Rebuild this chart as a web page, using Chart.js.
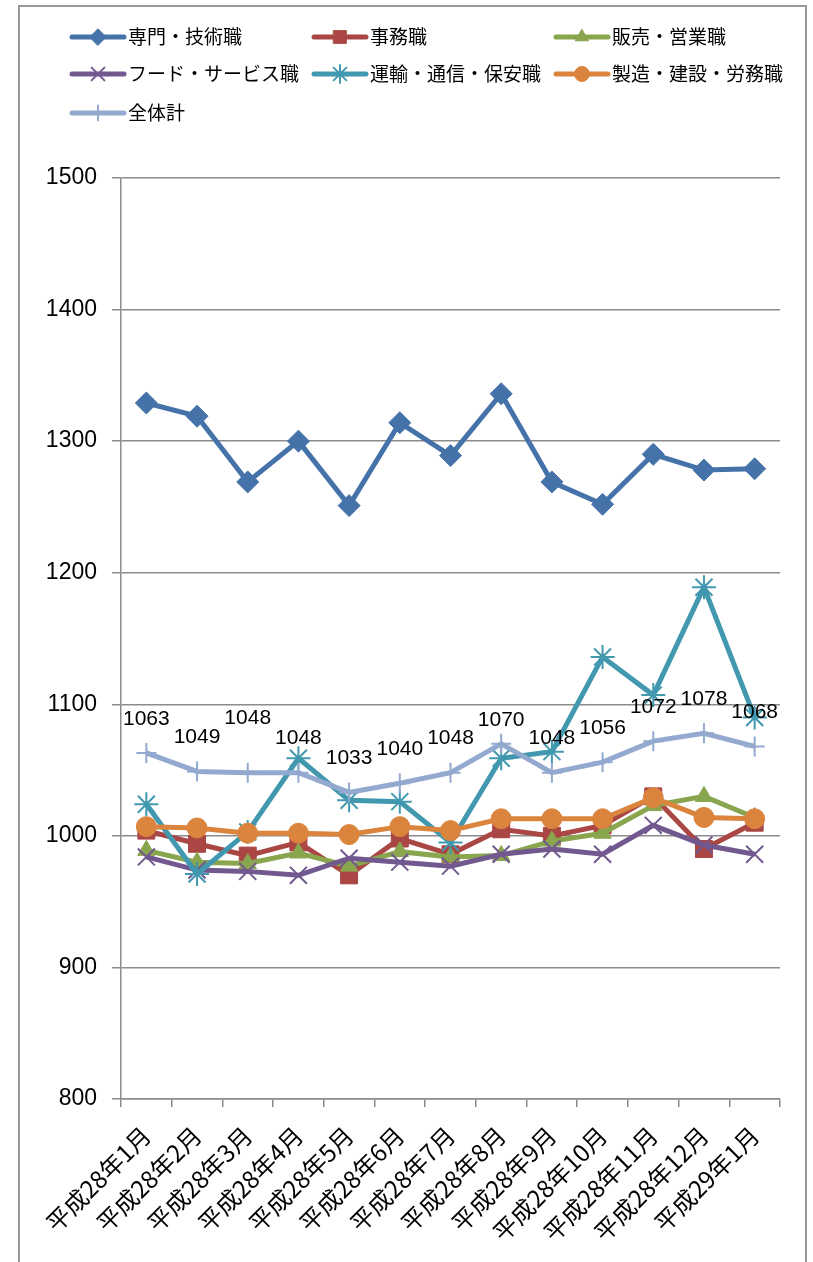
<!DOCTYPE html>
<html>
<head>
<meta charset="utf-8">
<script src="https://cdn.jsdelivr.net/npm/chart.js@4.4.1/dist/chart.umd.min.js"></script>
<style>
  html, body { margin: 0; padding: 0; background: #fff; }
  #wrap { position: relative; width: 813px; height: 1262px; overflow: hidden; }
  #frame { position: absolute; left: 18px; top: 5px; width: 789px; height: 1300px; border: 2px solid #999; box-sizing: border-box; }
  canvas { position: absolute; left: 0; top: 0; }
</style>
</head>
<body>
<div id="wrap">
  <div id="frame"></div>
  <canvas id="c" width="813" height="1262"></canvas>
</div>
<script>
const categories = ['平成28年1月','平成28年2月','平成28年3月','平成28年4月','平成28年5月','平成28年6月','平成28年7月','平成28年8月','平成28年9月','平成28年10月','平成28年11月','平成28年12月','平成29年1月'];
const seriesNames = ['専門・技術職','事務職','販売・営業職','フード・サービス職','運輸・通信・保安職','製造・建設・労務職','全体計'];
const senmon = [1329,1319,1269,1300,1251,1314,1289,1336,1269,1252,1290,1278,1279];
const jimu   = [1004,994,985,995,970,998,986,1005,1000,1008,1030,990,1010];
const hanbai = [989,980,979,987,977,988,984,985,996,1002,1023,1030,1014];
const food   = [984,974,973,970,983,980,977,986,990,986,1008,993,986];
const unyu   = [1024,971,1003,1059,1027,1026,995,1059,1064,1136,1107,1189,1090];
const seizo  = [1007,1006,1002,1002,1001,1007,1004,1013,1013,1013,1029,1014,1013];
const total  = [1063,1049,1048,1048,1033,1040,1048,1070,1048,1056,1072,1078,1068];
const yTicks = [800,900,1000,1100,1200,1300,1400,1500];

const colors = ['#4672AA','#AA4643','#89A54E','#71588F','#4198AF','#DB843D','#93A9CF'];
const styles = ['rectRot','rect','triangle','crossRot','star','circle','cross'];
const radii  = [11,12,10,12,12,10,10];
const values = [senmon,jimu,hanbai,food,unyu,seizo,total];

const datasets = values.map((v,i) => ({
  label: seriesNames[i],
  data: v,
  borderColor: colors[i],
  backgroundColor: colors[i],
  pointBackgroundColor: colors[i],
  pointBorderColor: colors[i],
  pointStyle: styles[i],
  pointRadius: radii[i],
  pointBorderWidth: (styles[i]==='crossRot'||styles[i]==='star'||styles[i]==='cross') ? 2 : 1,
  borderWidth: 5,
  tension: 0,
  fill: false,
  order: values.length - i
}));

const legendPlugin = {
  id: 'gridLegend',
  afterDraw(chart, args, opts) {
    const ctx = chart.ctx;
    const cols = opts.cols, rows = opts.rows;
    chart.data.datasets.forEach((ds, i) => {
      const x = cols[i % 3], y = rows[Math.floor(i / 3)];
      ctx.save();
      ctx.strokeStyle = ds.borderColor;
      ctx.lineWidth = 5;
      ctx.lineCap = 'round';
      ctx.beginPath(); ctx.moveTo(x, y); ctx.lineTo(x + opts.lineLen, y); ctx.stroke();
      ctx.fillStyle = ds.pointBackgroundColor;
      ctx.strokeStyle = ds.pointBorderColor;
      ctx.lineWidth = ds.pointBorderWidth;
      Chart.helpers.drawPoint(ctx, {
        pointStyle: ds.pointStyle, radius: ds.pointRadius * 0.75, borderWidth: ds.pointBorderWidth, rotation: 0
      }, x + opts.lineLen / 2, y);
      ctx.fillStyle = '#000';
      ctx.font = opts.font;
      ctx.textBaseline = 'middle';
      ctx.textAlign = 'left';
      ctx.fillText(ds.label, x + opts.lineLen + 4, y);
      ctx.restore();
    });
  }
};

const labelPlugin = {
  id: 'totalLabels',
  afterDatasetsDraw(chart, args, opts) {
    const ctx = chart.ctx;
    const idx = opts.datasetIndex;
    const meta = chart.getDatasetMeta(idx);
    const data = chart.data.datasets[idx].data;
    ctx.save();
    ctx.fillStyle = '#000';
    ctx.font = opts.font;
    ctx.textAlign = 'center';
    ctx.textBaseline = 'middle';
    meta.data.forEach((pt, j) => {
      const off = (opts.offsets && opts.offsets[j] != null) ? opts.offsets[j] : opts.offset;
      ctx.fillText(String(data[j]), pt.x, pt.y - off);
    });
    ctx.restore();
  }
};

new Chart(document.getElementById('c'), {
  type: 'line',
  data: { labels: categories, datasets },
  plugins: [legendPlugin, labelPlugin],
  options: {
    responsive: false,
    animation: false,
    layout: { padding: { top: 178, right: 33, left: 0, bottom: 0 } },
    plugins: {
      legend: { display: false },
      tooltip: { enabled: false },
      gridLegend: {
        cols: [72, 314, 556], rows: [37, 74, 113], lineLen: 52,
        font: '19px "Noto Sans CJK JP"'
      },
      totalLabels: {
        datasetIndex: 6, offset: 34, offsets: { 2: 54, 7: 24 },
        font: '21px "Liberation Sans"'
      }
    },
    scales: {
      x: {
        offset: true,
        grid: { display: true, drawOnChartArea: false, drawTicks: true, tickLength: 8, offset: true, color: '#8c8c8c', lineWidth: 1.5 },
        border: { color: '#8c8c8c', width: 1.5 },
        ticks: {
          minRotation: 45, maxRotation: 45, autoSkip: false, padding: 14,
          color: '#000', font: { family: '"Noto Sans CJK JP"', size: 24 }
        },
        afterFit(scale) { scale.height = 163; }
      },
      y: {
        min: 800, max: 1500,
        afterBuildTicks(scale) { scale.ticks = yTicks.map(v => ({ value: v })); },
        grid: { color: '#8c8c8c', lineWidth: 1.5, tickLength: 9 },
        border: { color: '#8c8c8c', width: 1.5 },
        ticks: {
          padding: 15, color: '#000', font: { family: '"Liberation Sans"', size: 23 },
          callback: (v) => String(v)
        },
        afterFit(scale) { scale.width = 121; }
      }
    }
  }
});
</script>
</body>
</html>
